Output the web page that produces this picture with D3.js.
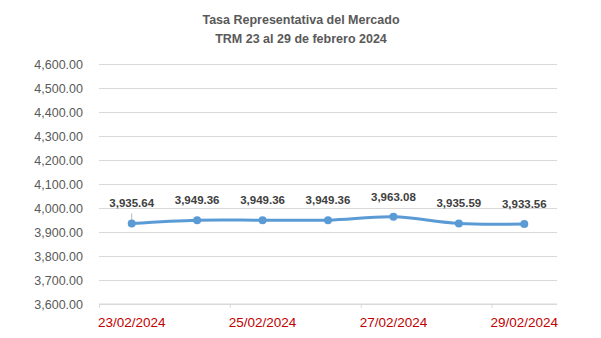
<!DOCTYPE html>
<html>
<head>
<meta charset="utf-8">
<script src="https://cdn.jsdelivr.net/npm/d3@7"></script>
<style>
  body { margin: 0; background: #fff; }
  svg { display: block; font-family: "Liberation Sans", Arial, sans-serif; }
</style>
</head>
<body>
<svg width="601" height="338"></svg>
<script>
// data
const dates = ["23/02/2024", "24/02/2024", "25/02/2024", "26/02/2024", "27/02/2024", "28/02/2024", "29/02/2024"];
const values = [3935.64, 3949.36, 3949.36, 3949.36, 3963.08, 3935.59, 3933.56];
const yTicks = [3600, 3700, 3800, 3900, 4000, 4100, 4200, 4300, 4400, 4500, 4600];
const shownDates = ["23/02/2024", "25/02/2024", "27/02/2024", "29/02/2024"];
const titleLines = ["Tasa Representativa del Mercado", "TRM 23 al 29 de febrero 2024"];

let width = 601,
    height = 338;
let margin = { top: 64, right: 44, bottom: 34, left: 99 };

const svg = d3.select("svg");

x = d3.scaleBand()
    .domain(dates)
    .range([margin.left, width - margin.right])
    .padding(0);

y = d3.scaleLinear()
    .domain([3600, 4600])
    .range([height - margin.bottom, margin.top]);

const fmt = d3.format(",.2f");

// title
svg.append("text")
    .attr("x", 301)
    .attr("y", 24)
    .attr("text-anchor", "middle")
    .attr("font-size", 12.5)
    .attr("font-weight", "bold")
    .attr("fill", "#595959")
    .selectAll("tspan")
    .data(titleLines)
    .join("tspan")
    .attr("x", 301)
    .attr("dy", (d, i) => i === 0 ? 0 : 19)
    .text(d => d);

// gridlines + y labels
yAxis = g => g
    .attr("transform", "translate(" + margin.left + ",0)")
    .call(d3.axisLeft(y).tickValues(yTicks).tickFormat(fmt)
        .tickSize(-(width - margin.left - margin.right)).tickPadding(16))
    .call(g => g.select(".domain").remove())
    .call(g => g.selectAll(".tick line").attr("stroke", "#d9d9d9"))
    .call(g => g.selectAll(".tick text")
        .attr("fill", "#595959")
        .attr("font-size", 12.5)
        .attr("font-family", "Liberation Sans, Arial, sans-serif"));

svg.append("g").call(yAxis);

// x axis: ticks at band starts, labels at band centers
const xg = svg.append("g")
    .attr("transform", "translate(0," + y(3600) + ")");

xg.append("line")
    .attr("x1", x.range()[0])
    .attr("x2", x.range()[1])
    .attr("stroke", "#d9d9d9");

xg.selectAll(".xt")
    .data(shownDates)
    .join("line")
    .attr("class", "xt")
    .attr("x1", d => x(d) + 0.5)
    .attr("x2", d => x(d) + 0.5)
    .attr("y1", 0)
    .attr("y2", 4)
    .attr("stroke", "#d9d9d9");

xg.selectAll(".xl")
    .data(shownDates)
    .join("text")
    .attr("class", "xl")
    .attr("x", d => x(d) + x.bandwidth() / 2)
    .attr("y", 23)
    .attr("text-anchor", "middle")
    .attr("font-size", 13.5)
    .attr("fill", "#c00000")
    .text(d => d);

// line
const pts = dates.map((d, i) => ({ date: d, value: values[i] }));

line = d3.line()
    .x(d => x(d.date) + x.bandwidth() / 2)
    .y(d => y(d.value))
    .curve(d3.curveCatmullRom.alpha(0.5));

// leader line on first label
svg.append("line")
    .attr("x1", x(dates[0]) + x.bandwidth() / 2)
    .attr("x2", x(dates[0]) + x.bandwidth() / 2)
    .attr("y1", y(values[0]) - 10)
    .attr("y2", y(values[0]))
    .attr("stroke", "#a6a6a6")
    .attr("stroke-width", 0.8);

svg.append("path")
    .datum(pts)
    .attr("fill", "none")
    .attr("stroke", "#5b9bd5")
    .attr("stroke-width", 3)
    .attr("stroke-linecap", "round")
    .attr("d", line);

svg.append("g")
    .selectAll("circle")
    .data(pts)
    .join("circle")
    .attr("cx", d => x(d.date) + x.bandwidth() / 2)
    .attr("cy", d => y(d.value))
    .attr("r", 4)
    .attr("fill", "#5b9bd5");

svg.append("g")
    .selectAll("text")
    .data(pts)
    .join("text")
    .attr("x", d => x(d.date) + x.bandwidth() / 2)
    .attr("y", d => y(d.value) - 16)
    .attr("text-anchor", "middle")
    .attr("font-size", 11.5)
    .attr("font-weight", "bold")
    .attr("fill", "#404040")
    .text(d => fmt(d.value));
</script>
</body>
</html>
